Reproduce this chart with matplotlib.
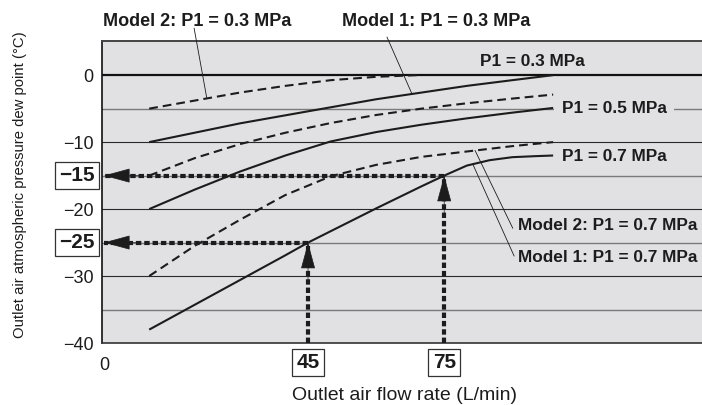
import numpy as np
import matplotlib
matplotlib.use("Agg")
import matplotlib.pyplot as plt

plt.rcParams['font.family'] = ['Liberation Sans', 'DejaVu Sans']

# ---- data -------------------------------------------------------------
# Model 1 (solid) and Model 2 (dashed) dew-point curves, flow in L/min
m1_p03_x = [10, 20, 30, 40, 50, 60, 70, 80, 90, 99]
m1_p03_y = [-10, -8.6, -7.2, -6.0, -4.8, -3.6, -2.6, -1.6, -0.75, 0]

m2_p03_x = [10, 20, 30, 40, 50, 60, 69]
m2_p03_y = [-5, -3.8, -2.6, -1.6, -0.75, -0.25, 0]

m1_p05_x = [10, 20, 30, 40, 50, 60, 70, 80, 90, 99]
m1_p05_y = [-20, -17.1, -14.4, -12.0, -9.9, -8.5, -7.4, -6.45, -5.6, -4.9]

m2_p05_x = [10, 20, 30, 40, 50, 60, 70, 80, 90, 99]
m2_p05_y = [-15, -12.4, -10.3, -8.6, -7.15, -5.95, -5.0, -4.2, -3.5, -2.9]

m1_p07_x = [10, 20, 30, 40, 45, 50, 60, 70, 75, 80, 85, 90, 95, 99]
m1_p07_y = [-38, -34.3, -30.6, -26.9, -25, -23.3, -19.9, -16.6, -15,
            -13.5, -12.7, -12.25, -12.1, -12.0]

m2_p07_x = [10, 20, 30, 40, 50, 60, 70, 80, 90, 99]
m2_p07_y = [-30, -25.5, -21.6, -17.9, -15.1, -13.4, -12.2, -11.4, -10.6, -10.0]

# reading examples: flow -> dew point
read_flow = [45, 75]
read_dew = [-25, -15]

y_ticks = [-40, -30, -20, -10, 0]
y_ticklabels = ["\u221240", "\u221230", "\u221220", "\u221210", "0"]
x_ticks = [0]
x_ticklabels = ["0"]

# ---- style ------------------------------------------------------------
INK = '#1c1c1c'
BG = '#e1e1e3'

fig = plt.figure(figsize=(7.02, 4.05), dpi=100)
ax = fig.add_axes([102 / 702, 62 / 405, 600 / 702, 302 / 405])
ax.set_facecolor(BG)
ax.set_xlim(-0.4, 131.8)
ax.set_ylim(-40, 5.1)

# horizontal grid: dark at multiples of 10, grey at the fives, heavy at 0
for yv in range(-35, 0, 5):
    if yv % 10 == 0:
        ax.axhline(yv, color='#2a2a2a', lw=0.8, zorder=1)
    else:
        ax.axhline(yv, color='#7a7a7a', lw=1.0, zorder=1)
ax.axhline(0, color='#111111', lw=1.6, zorder=1)

ax.spines['right'].set_visible(False)
ax.spines['left'].set_color('#111111')
ax.spines['left'].set_linewidth(1.2)
ax.spines['bottom'].set_color('#333333')
ax.spines['bottom'].set_linewidth(1.2)
ax.spines['top'].set_color('#444444')
ax.spines['top'].set_linewidth(1.4)

ax.set_yticks(y_ticks)
ax.set_yticklabels(y_ticklabels, fontsize=13, color=INK)
ax.set_xticks(x_ticks)
ax.set_xticklabels(x_ticklabels, fontsize=13, color=INK)
ax.tick_params(axis='y', length=0, pad=6)
ax.tick_params(axis='x', length=0, pad=10)

# ---- curves -----------------------------------------------------------
solid_kw = dict(color=INK, lw=1.5, zorder=3, solid_capstyle='butt')
dash_kw = dict(color=INK, lw=1.5, zorder=3, linestyle=(0, (4.2, 2.4)))

ax.plot(m1_p03_x, m1_p03_y, **solid_kw)
ax.plot(m2_p03_x, m2_p03_y, **dash_kw)
ax.plot(m1_p05_x, m1_p05_y, **solid_kw)
ax.plot(m2_p05_x, m2_p05_y, **dash_kw)
ax.plot(m1_p07_x, m1_p07_y, **solid_kw)
ax.plot(m2_p07_x, m2_p07_y, **dash_kw)

# ---- reading arrows ---------------------------------------------------
arr_kw = dict(color=INK, lw=3.0, linestyle=(0, (1.3, 0.7)), zorder=4)
head = dict(arrowstyle='-|>,head_length=1.73,head_width=0.47',
            mutation_scale=10, color=INK, lw=0.5, shrinkA=0, shrinkB=0)
for fx, dy in zip(read_flow, read_dew):
    ax.plot([fx, fx], [-40, dy], **arr_kw)
    ax.plot([fx, 0], [dy, dy], **arr_kw)
    ax.annotate('', xy=(fx, dy), xytext=(fx, dy - 6), arrowprops=head,
                zorder=5)
    ax.annotate('', xy=(0, dy), xytext=(8, dy), arrowprops=head,
                zorder=5, annotation_clip=False)

# boxed reading values on the axes
box = dict(boxstyle='square,pad=0.2', fc='white', ec='#333333', lw=0.9)
for dy in read_dew:
    ax.annotate(f"\u2212{abs(dy)}", xy=(0, dy), xycoords=('axes fraction', 'data'),
                xytext=(-5.5, 0), textcoords='offset points', ha='right',
                va='center', fontsize=15, fontweight='bold', color=INK,
                bbox=box, annotation_clip=False)
for fx in read_flow:
    ax.annotate(f"{fx}", xy=(fx, 0), xycoords=('data', 'axes fraction'),
                xytext=(0, -14), textcoords='offset points', ha='center',
                va='center', fontsize=15, fontweight='bold', color=INK,
                bbox=box, annotation_clip=False)

# ---- curve labels -----------------------------------------------------
lab_kw = dict(fontsize=12.4, fontweight='bold', color=INK, zorder=6)
ax.text(94.4, 2.0, "P1 = 0.3 MPa", ha='center', va='center', **lab_kw)
ax.text(100.9, -4.95, "P1 = 0.5 MPa", ha='left', va='center',
        bbox=dict(boxstyle='square,pad=0.45', fc=BG, ec='none'), **lab_kw)
ax.text(100.9, -12.2, "P1 = 0.7 MPa", ha='left', va='center', **lab_kw)
ax.text(91.25, -22.4, "Model 2: P1 = 0.7 MPa", ha='left', va='center', **lab_kw)
ax.text(91.25, -27.2, "Model 1: P1 = 0.7 MPa", ha='left', va='center', **lab_kw)

top_kw = dict(fontsize=13, fontweight='bold', color=INK, ha='center',
              va='center', clip_on=False)
ax.text(20.5, 7.96, "Model 2: P1 = 0.3 MPa", **top_kw)
ax.text(73.3, 7.96, "Model 1: P1 = 0.3 MPa", **top_kw)

# leader lines from labels to curves
lead_kw = dict(color=INK, lw=0.6, zorder=6, clip_on=False)
def leader(cx, cxs, cys, px, py):
    cy = np.interp(cx, cxs, cys)
    ax.plot([cx, px], [cy, py], **lead_kw)

leader(22.7, m2_p03_x, m2_p03_y, 19.9, 7.0)
leader(67.9, m1_p03_x, m1_p03_y, 62.4, 5.67)
leader(81.8, m2_p07_x, m2_p07_y, 90.1, -22.85)
leader(81.3, m1_p07_x, m1_p07_y, 90.4, -27.0)

# ---- axis titles ------------------------------------------------------
fig.text(404 / 702, 1 - 395 / 405, "Outlet air flow rate (L/min)",
         ha='center', va='center', fontsize=14, color=INK)
fig.text(20 / 702, 1 - 184.5 / 405,
         "Outlet air atmospheric pressure dew point (\u00b0C)",
         ha='center', va='center', rotation=90, fontsize=10.7, color=INK)

fig.savefig("out.png", dpi=100)
